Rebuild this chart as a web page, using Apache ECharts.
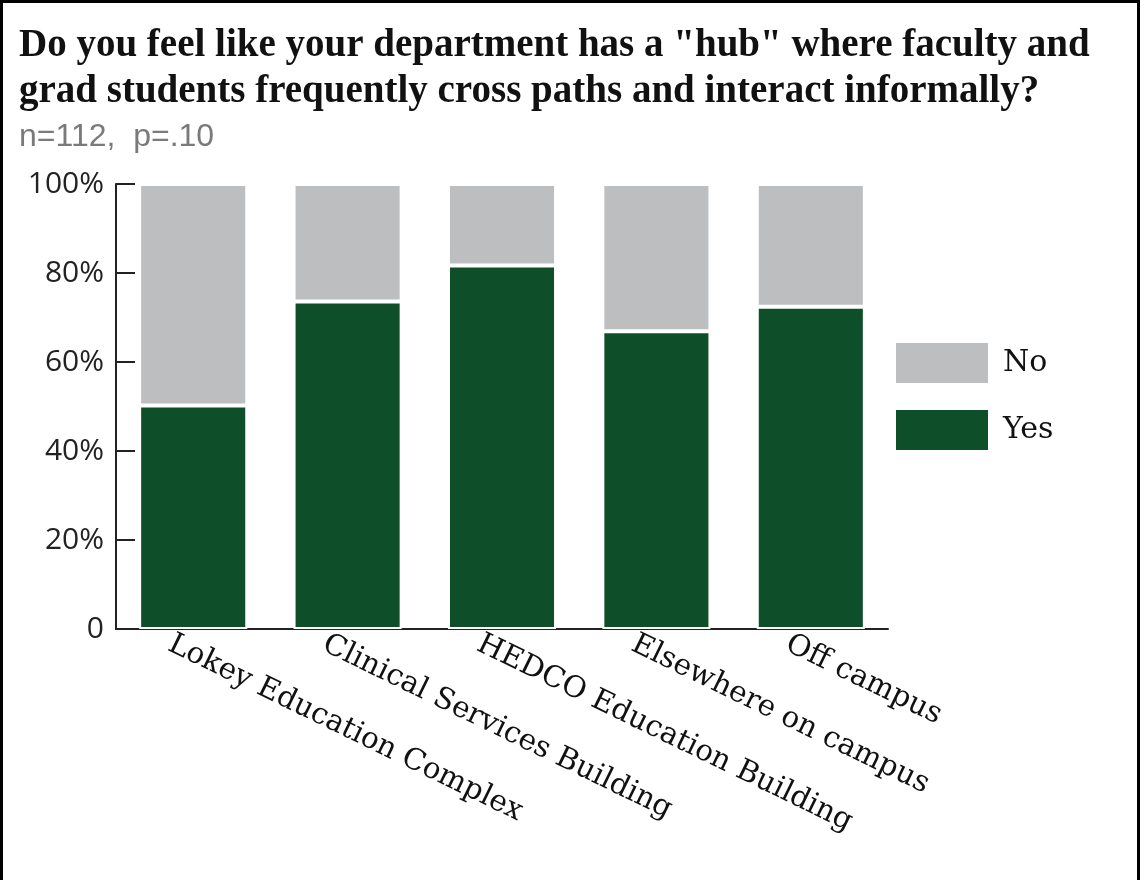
<!DOCTYPE html>
<html>
<head>
<meta charset="utf-8">
<script src="https://cdn.jsdelivr.net/npm/echarts@6/dist/echarts.min.js"></script>
<style>
html,body{margin:0;padding:0;background:#fff;}
#c{width:1140px;height:880px;}
</style>
</head>
<body>
<div id="c"></div>
<script>
const categories = ['Lokey Education Complex','Clinical Services Building','HEDCO Education Building','Elsewhere on campus','Off campus'];
const yesValues = [50.2, 73.6, 81.7, 66.9, 72.4];
const noValues = [49.8, 26.4, 18.3, 33.1, 27.6];
const yTicks = [0, 20, 40, 60, 80, 100];

const chart = echarts.init(document.getElementById('c'));
chart.setOption({
  backgroundColor: '#fff',
  animation: false,
  title: {
    text: 'Do you feel like your department has a "hub" where faculty and\ngrad students frequently cross paths and interact informally?',
    subtext: 'n=112,  p=.10',
    left: 14, top: 18,
    itemGap: 6,
    textStyle: {fontFamily: 'Liberation Serif', fontWeight: 'bold', fontSize: 39, lineHeight: 46, color: '#111'},
    subtextStyle: {fontFamily: 'Liberation Sans', fontSize: 32, color: '#7a7a7a'}
  },
  legend: {
    orient: 'vertical', left: 891, top: 338,
    itemWidth: 92, itemHeight: 40, itemGap: 27,
    icon: 'rect',
    data: ['No', 'Yes'],
    itemStyle: {borderWidth: 0},
    textStyle: {fontFamily: 'DejaVu Serif', fontSize: 30, color: '#111', padding: [9, 0, 0, 10]}
  },
  grid: {left: 116, right: 252, top: 184, bottom: 251},
  xAxis: {
    type: 'category', data: categories,
    axisLine: {lineStyle: {color: '#222', width: 2}},
    axisTick: {inside: true, length: 11, lineStyle: {color: '#222', width: 2}},
    axisLabel: {interval: 0, rotate: -26, margin: 25, padding: [0, 0, 0, -26],
      fontFamily: 'DejaVu Serif', fontSize: 29.5, color: '#111'}
  },
  yAxis: {
    type: 'value', min: 0, max: 100, interval: 20,
    axisLine: {show: true, lineStyle: {color: '#222', width: 2}},
    axisTick: {show: true, inside: true, length: 19, lineStyle: {color: '#222', width: 2}},
    splitLine: {show: false},
    axisLabel: {margin: 12, fontFamily: 'Open Sans', fontSize: 30, color: '#222',
      formatter: v => yTicks.indexOf(v) >= 0 ? (v === 0 ? '0' : v + '%') : ''}
  },
  series: [
    {name: 'Yes', type: 'bar', stack: 't', data: yesValues, barWidth: '70%',
     itemStyle: {color: '#0e4f2a', borderColor: '#fff', borderWidth: 2}},
    {name: 'No', type: 'bar', stack: 't', data: noValues, barWidth: '70%',
     itemStyle: {color: '#bdbec0', borderColor: '#fff', borderWidth: 2}}
  ],
  graphic: [{type: 'rect', shape: {x: 1.5, y: 1.5, width: 1137, height: 900},
    style: {fill: 'none', stroke: '#000', lineWidth: 3}, z: 100}]
});
</script>
</body>
</html>
